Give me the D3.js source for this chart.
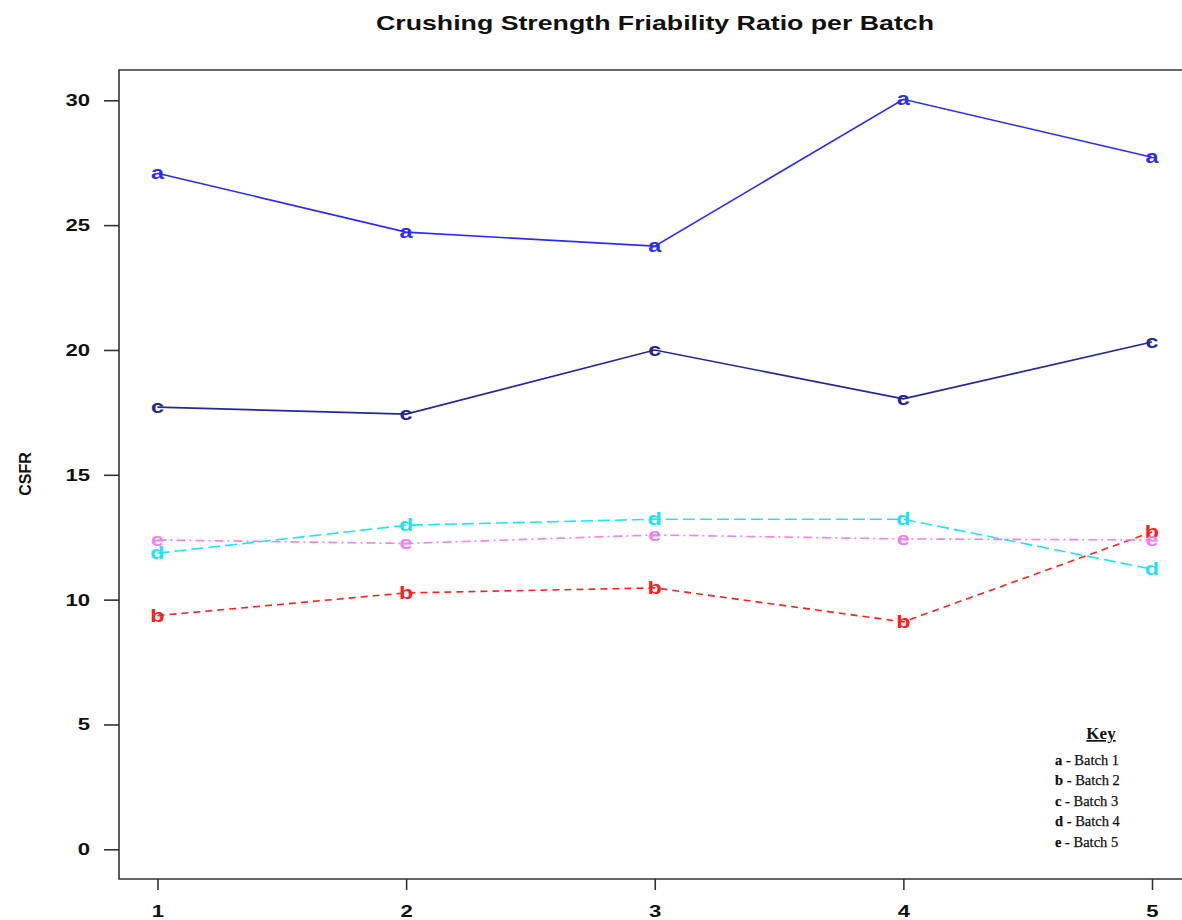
<!DOCTYPE html>
<html><head><meta charset="utf-8">
<script src="https://cdn.jsdelivr.net/npm/d3@7"></script>
<style>body{margin:0;background:#fff}svg{display:block}</style>
</head><body>
<script>
const batches = [1, 2, 3, 4, 5];
const seriesNames = ["a", "b", "c", "d", "e"];
const batch1 = [27.08, 24.72, 24.16, 30.04, 27.72];
const batch2 = [9.36, 10.27, 10.47, 9.11, 12.71];
const batch3 = [17.71, 17.43, 20.0, 18.04, 20.32];
const batch4 = [11.86, 12.98, 13.22, 13.22, 11.22];
const batch5 = [12.39, 12.25, 12.59, 12.43, 12.39];
const yTicks = [0, 5, 10, 15, 20, 25, 30];
const keyLabels = ["Batch 1", "Batch 2", "Batch 3", "Batch 4", "Batch 5"];

const W = 1182, H = 920;
const svg = d3.select("body").append("svg").attr("width", W).attr("height", H);
const x = d3.scaleLinear().domain([1, 5]).range([157.5, 1152]);
const y = d3.scaleLinear().domain([0, 30]).range([849.3, 100.3]);
const box = {l: 119, t: 70, b: 879, r: 1200};
const SANS = "Liberation Sans, Arial, sans-serif";

function stretch(sel, f) {
  sel.each(function () {
    const w = this.getComputedTextLength();
    d3.select(this).attr("textLength", w * f).attr("lengthAdjust", "spacingAndGlyphs");
  });
}

const styles = [
  {data: batch1, color: "#2b2bff", dash: null},
  {data: batch2, color: "#ff2020", dash: "7,5"},
  {data: batch3, color: "#26269c", dash: null},
  {data: batch4, color: "#1ee6f0", dash: "12,5"},
  {data: batch5, color: "#ee82ee", dash: "9,4,2,4"}
];

// frame
svg.append("path").attr("d", `M${box.r},${box.t}H${box.l}V${box.b}H${box.r}`)
  .attr("fill", "none").attr("stroke", "#333").attr("stroke-width", 1.6);

// y axis
const yAxis = d3.axisLeft(y).tickValues(yTicks).tickSize(15).tickPadding(14).tickFormat(d3.format("d"));
const gy = svg.append("g").attr("transform", `translate(${box.l},0)`).call(yAxis);
gy.select(".domain").remove();
gy.selectAll("line").attr("stroke", "#333").attr("stroke-width", 1.6);
gy.selectAll("text").attr("font-family", SANS)
  .attr("font-weight", "bold").attr("font-size", 17).attr("fill", "#111").call(stretch, 1.3);

// x axis
const xAxis = d3.axisBottom(x).tickValues(batches).tickSize(11).tickPadding(15).tickFormat(d3.format("d"));
const gx = svg.append("g").attr("transform", `translate(0,${box.b})`).call(xAxis);
gx.select(".domain").remove();
gx.selectAll("line").attr("stroke", "#333").attr("stroke-width", 1.6);
gx.selectAll("text").attr("font-family", SANS)
  .attr("font-weight", "bold").attr("font-size", 17).attr("fill", "#111").call(stretch, 1.3);

// title
svg.append("text").attr("x", 655).attr("y", 30).attr("text-anchor", "middle")
  .attr("font-family", SANS).attr("font-weight", "bold")
  .attr("font-size", 20.5).attr("fill", "#111").text("Crushing Strength Friability Ratio per Batch")
  .attr("textLength", 558).attr("lengthAdjust", "spacingAndGlyphs");

// y label
svg.append("text").attr("transform", "translate(31,474) rotate(-90)").attr("text-anchor", "middle")
  .attr("font-family", SANS).attr("font-weight", "bold")
  .attr("font-size", 16).attr("fill", "#111").text("CSFR");

const line = d3.line().x((d, i) => x(batches[i])).y(d => y(d));
styles.forEach((s, k) => {
  svg.append("path").datum(s.data).attr("d", line).attr("fill", "none")
    .attr("stroke", s.color).attr("stroke-width", 1.6)
    .attr("stroke-dasharray", s.dash);
});
styles.forEach((s, k) => {
  svg.append("g").selectAll("text").data(s.data).join("text")
    .attr("x", (d, i) => x(batches[i])).attr("y", d => y(d))
    .attr("dy", "0.33em").attr("text-anchor", "middle")
    .attr("font-family", SANS).attr("font-weight", "bold")
    .attr("font-size", 18).attr("fill", s.color).text(seriesNames[k]).call(stretch, 1.3);
});

// key
const key = svg.append("g").attr("font-family", "Liberation Serif, Times New Roman, serif").attr("fill", "#111");
key.append("text").attr("x", 1101).attr("y", 739).attr("text-anchor", "middle")
  .attr("font-weight", "bold").attr("font-size", 17).attr("text-decoration", "underline").text("Key");
keyLabels.forEach((lab, i) => {
  const t = key.append("text").attr("x", 1055).attr("y", 765 + i * 20.4).attr("font-size", 14.5)
    .attr("stroke", "#111").attr("stroke-width", 0.25);
  t.append("tspan").attr("font-weight", "bold").text(seriesNames[i]);
  t.append("tspan").text(" - " + lab);
});
</script>
</body></html>
